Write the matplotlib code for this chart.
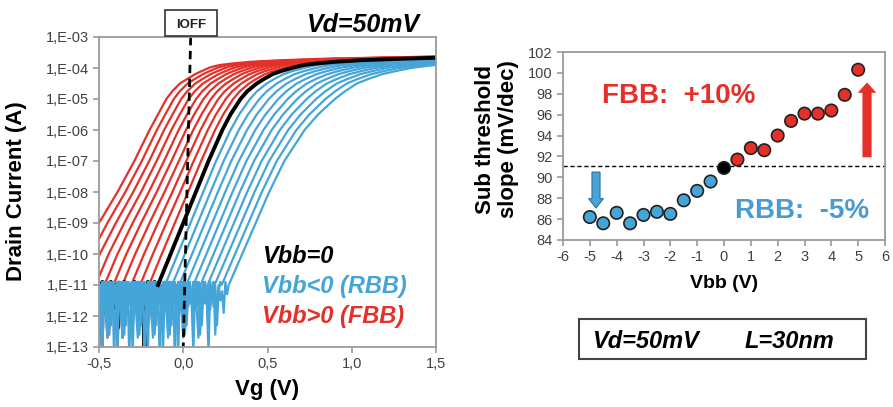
import numpy as np
import matplotlib
matplotlib.use('Agg')
import matplotlib.pyplot as plt
from matplotlib.patches import Rectangle, FancyArrow

plt.rcParams['font.family'] = ['Liberation Sans', 'DejaVu Sans']
plt.rcParams['axes.unicode_minus'] = False

W, H = 893, 407
RED = '#e5302a'
BLUE = '#45a5d8'
GREY = '#9a9a9a'
TXT = '#404040'

# --- Id-Vg data ---
# current levels (log10 A) and the Vg (V) where each curve crosses them
levels = [-11, -10, -9, -8, -7, -6, -5.5, -5, -4.75, -4.5, -4.35, -4.2, -4.1, -4.0,
          -3.95, -3.9, -3.85, -3.8, -3.75, -3.7, -3.65, -3.6]
black_vg = [-0.15, -0.075, 0.0, 0.075, 0.15, 0.232, 0.28, 0.34, 0.38, 0.436, 0.48, 0.53, 0.58, 0.645,
            0.68, 0.72, 0.80, 0.90, 1.05, 1.30, 1.65, 2.30]
blue_edge_vg = [0.27, 0.35, 0.43, 0.51, 0.60, 0.72, 0.80, 0.90, 0.96, 1.03, 1.10, 1.18, 1.26, 1.35,
                1.42, 1.50, 1.68, 1.90, 2.20, 2.60, 3.00, 3.60]
red_edge_vg = [-0.68, -0.60, -0.50, -0.39, -0.29, -0.20, -0.15, -0.10, -0.065, -0.02, 0.025, 0.07, 0.11, 0.15,
               0.18, 0.22, 0.30, 0.40, 0.58, 0.85, 1.30, 1.90]
# position of each Vbb curve between Vbb=0 and the outer curve
fractions = [0.1, 0.2, 0.3, 0.4, 0.5, 0.6, 0.7, 0.8, 0.9, 1.0]
# measured noise floor (log10 A), one value every 10 mV from Vg=-0.5 V
noise = [-11.0, -11.6, -10.9, -11.3, -11.9, -11.1, -11.5, -10.9, -11.8, -11.2,
         -11.0, -12.4, -11.4, -11.1, -11.7, -10.9, -11.3, -11.6, -11.0, -11.5,
         -11.2, -10.9, -11.8, -11.3, -11.0, -11.6, -11.1, -13.4, -11.2, -10.9,
         -11.5, -11.1, -12.2, -10.9, -11.3, -11.7, -11.0, -11.4, -11.4, -11.1,
         -10.9, -11.6, -12.0, -11.2, -10.9, -11.5, -11.3, -11.0, -11.8, -11.1,
         -10.9, -12.6, -11.4, -11.0, -11.5, -11.2, -11.9, -10.9, -11.3, -11.7,
         -11.0, -12.3, -11.2, -10.9, -11.6, -13.2, -11.1, -11.4, -10.9, -11.5,
         -11.3, -11.0, -11.6, -11.5, -11.1, -10.9, -11.8, -12.7, -11.2, -11.0, -11.4]

# --- subthreshold slope vs Vbb ---
vbb = [-5, -4.5, -4, -3.5, -3, -2.5, -2, -1.5, -1, -0.5, 0, 0.5, 1, 1.5, 2, 2.5, 3, 3.5, 4, 4.5, 5]
ss = [86.2, 85.6, 86.6, 85.6, 86.4, 86.7, 86.5, 87.8, 88.7, 89.6, 90.9,
      91.7, 92.8, 92.6, 94.0, 95.4, 96.1, 96.1, 96.4, 97.9, 100.3]
ss_ref = 91.1

fig = plt.figure(figsize=(W / 100, H / 100), dpi=100)


def ax_rect(x0, y0, x1, y1):
    return [x0 / W, 1 - y1 / H, (x1 - x0) / W, (y1 - y0) / H]


def style(ax):
    for s in ax.spines.values():
        s.set_color(GREY)
        s.set_linewidth(1.3)
    ax.tick_params(colors=GREY, labelcolor=TXT, length=4, width=1.2, direction='out')


# left panel
ax1 = fig.add_axes(ax_rect(99, 37, 436, 347))
vg_noise = np.round(-0.5 + 0.01 * np.arange(len(noise)), 3)
black = np.array(black_vg)


def curve(edge, f, k):
    x = black + f * (np.array(edge) - black)
    fl = np.roll(noise, 9 * k)
    m = vg_noise < x[0]
    return np.r_[vg_noise[m], x], 10 ** np.r_[fl[m], levels], m.sum()


for i, f in enumerate(fractions):
    x, y, n = curve(red_edge_vg, f, i + 1)
    ax1.plot(x, y, color=RED, lw=1.6)
x0, y0, n0 = curve(black_vg, 0, 0)
ax1.plot(x0[:n0 + 1], y0[:n0 + 1], color='black', lw=2.8)
for i, f in enumerate(fractions):
    x, y, n = curve(blue_edge_vg, f, i + 11)
    ax1.plot(x, y, color=BLUE, lw=1.6)
ax1.plot(x0[n0:], y0[n0:], color='black', lw=2.8)

ax1.plot([0.044, 0.0], [1e-3, 1e-13], color='black', ls=(0, (3, 2)), lw=2)

ax1.set_yscale('log')
ax1.set_xlim(-0.5, 1.5)
ax1.set_ylim(1e-13, 1e-3)
ax1.set_yticks([10.0 ** e for e in range(-13, -2)])
ax1.set_yticklabels(['1,E-%02d' % -e for e in range(-13, -2)])
ax1.minorticks_off()
ax1.set_xticks([-0.5, 0, 0.5, 1.0, 1.5])
ax1.set_xticklabels(['-0,5', '0,0', '0,5', '1,0', '1,5'])
style(ax1)
ax1.tick_params(labelsize=10.5)

# right panel
ax2 = fig.add_axes(ax_rect(563, 52, 885, 240))
ax2.axhline(ss_ref, color='black', ls=(0, (3, 2)), lw=1)
cols = [BLUE if v < 0 else ('black' if v == 0 else RED) for v in vbb]
ax2.scatter(vbb, ss, s=80, c=cols, edgecolors='#222222', linewidths=1.2, zorder=3)
ax2.add_patch(FancyArrow(-4.77, 90.5, 0, -3.44, width=0.3, head_width=0.55,
                         head_length=0.9, length_includes_head=True,
                         fc='#4aa3d8', ec='#2b6f9c', lw=0.8))
ax2.add_patch(FancyArrow(5.33, 91.95, 0, 7.08, width=0.31, head_width=0.64,
                         head_length=0.9, length_includes_head=True,
                         fc=RED, ec=RED, lw=0.5))
ax2.set_xlim(-6, 6)
ax2.set_ylim(84, 102)
ax2.set_xticks(range(-6, 7))
ax2.set_yticks(range(84, 103, 2))
style(ax2)
ax2.tick_params(labelsize=10.5)

# texts
def ftext(x, y, s, **kw):
    fig.text(x / W, 1 - y / H, s, **kw)


ftext(267, 395, 'Vg (V)', fontsize=16, fontweight='bold', ha='center', va='baseline')
ftext(17, 191, 'Drain Current (A)', fontsize=16, fontweight='bold', ha='center',
      va='center', rotation=90)
ftext(363, 32, 'Vd=50mV', fontsize=18, fontweight='bold', style='italic', ha='center', va='baseline')
ftext(262, 263, 'Vbb=0', fontsize=17, fontweight='bold', style='italic', color='black', va='baseline')
ftext(262, 293, 'Vbb<0 (RBB)', fontsize=17, fontweight='bold', style='italic', color=BLUE, va='baseline')
ftext(262, 323, 'Vbb>0 (FBB)', fontsize=17, fontweight='bold', style='italic', color=RED, va='baseline')

fig.add_artist(Rectangle((165 / W, 1 - 36 / H), 52 / W, 26 / H, transform=fig.transFigure,
                         fc='white', ec='#333333', lw=1.2))
ftext(191, 28, 'IOFF', fontsize=9.5, fontweight='bold', ha='center', va='baseline', color='#222222')

ftext(724, 288, 'Vbb (V)', fontsize=14, fontweight='bold', ha='center', va='baseline')
ftext(497, 139, 'Sub threshold\nslope (mV/dec)', fontsize=16, fontweight='bold',
      ha='center', va='center', rotation=90, linespacing=1.15)
ftext(602, 103, 'FBB:  +10%', fontsize=20, fontweight='bold', color=RED, va='baseline')
ftext(735, 218, 'RBB:  -5%', fontsize=20, fontweight='bold', color='#4a9ad4', va='baseline')

fig.add_artist(Rectangle((579 / W, 1 - 359 / H), 287 / W, 40 / H, transform=fig.transFigure,
                         fc='white', ec='#444444', lw=1.5))
ftext(592, 348, 'Vd=50mV', fontsize=17, fontweight='bold', style='italic', va='baseline')
ftext(745, 348, 'L=30nm', fontsize=17, fontweight='bold', style='italic', va='baseline')

fig.savefig('out.png', dpi=100)
